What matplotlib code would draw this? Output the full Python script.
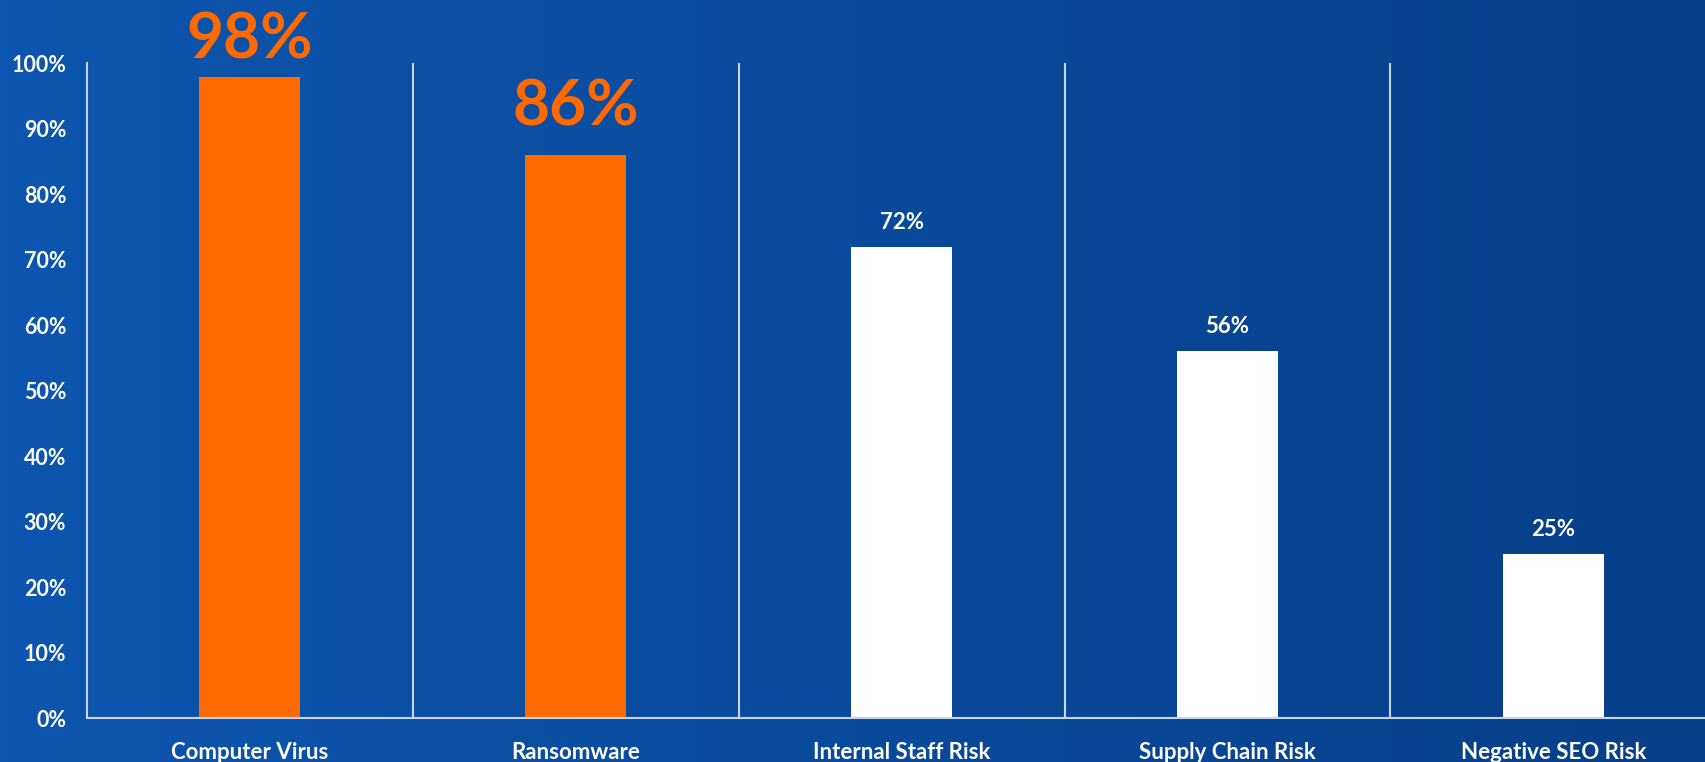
import numpy as np
import matplotlib
matplotlib.use("Agg")
import matplotlib.pyplot as plt
from matplotlib.colors import LinearSegmentedColormap

# Chart data
categories = ["Computer Virus", "Ransomware", "Internal Staff Risk",
              "Supply Chain Risk", "Negative SEO Risk"]
values = [98, 86, 72, 56, 25]
highlight = [True, True, False, False, False]
y_ticks = [0, 10, 20, 30, 40, 50, 60, 70, 80, 90, 100]

ORANGE = "#ff6a00"
LINE = "#c9d3e6"

plt.rcParams["font.family"] = ["Lato", "DejaVu Sans"]

fig = plt.figure(figsize=(17.06, 7.62), dpi=100)

# Blue background, lighter on the left
bg = fig.add_axes([0, 0, 1, 1], zorder=0)
grad = np.linspace(0, 1, 256).reshape(1, -1)
cmap = LinearSegmentedColormap.from_list("bg", ["#0d55ae", "#0a4a9c", "#073f88"])
bg.imshow(grad, aspect="auto", cmap=cmap, extent=[0, 1, 0, 1])
bg.axis("off")

ax = fig.add_axes([0.051, 0.0577, 0.955, 0.859], zorder=1)
ax.patch.set_alpha(0)

x = np.arange(len(categories))
colors = [ORANGE if h else "white" for h in highlight]
ax.bar(x, values, width=0.31, color=colors, zorder=2)

ax.set_xlim(-0.5, len(categories) - 0.5)
ax.set_ylim(0, 100)

# Separators between categories
for sep in x[:-1] + 0.5:
    ax.axvline(sep, color=LINE, lw=1.5, zorder=1)

for side in ["top", "right"]:
    ax.spines[side].set_visible(False)
for side in ["left", "bottom"]:
    ax.spines[side].set_color(LINE)
    ax.spines[side].set_linewidth(1.5)

ax.set_yticks(y_ticks)
ax.set_yticklabels([f"{t}%" for t in y_ticks])
ax.set_xticks(x)
ax.set_xticklabels(categories)
ax.tick_params(axis="y", length=0, pad=15, labelsize=15.5, labelcolor="white")
ax.tick_params(axis="x", length=0, pad=17, labelsize=16, labelcolor="white")
for lab in ax.get_xticklabels() + ax.get_yticklabels():
    lab.set_fontweight("bold")

# Value labels (big orange for the highlighted bars)
for xi, v, h in zip(x, values, highlight):
    if h:
        off = 13 if v > 95 else 21
        ax.annotate(f"{v}%", (xi, v), xytext=(0, off), textcoords="offset points",
                    ha="center", va="baseline", fontsize=46, fontweight="bold",
                    color=ORANGE, clip_on=False)
    else:
        ax.annotate(f"{v}%", (xi, v), xytext=(0, 13), textcoords="offset points",
                    ha="center", va="baseline", fontsize=16, fontweight="bold",
                    color="white", clip_on=False)

fig.savefig("out.png", dpi=100)
